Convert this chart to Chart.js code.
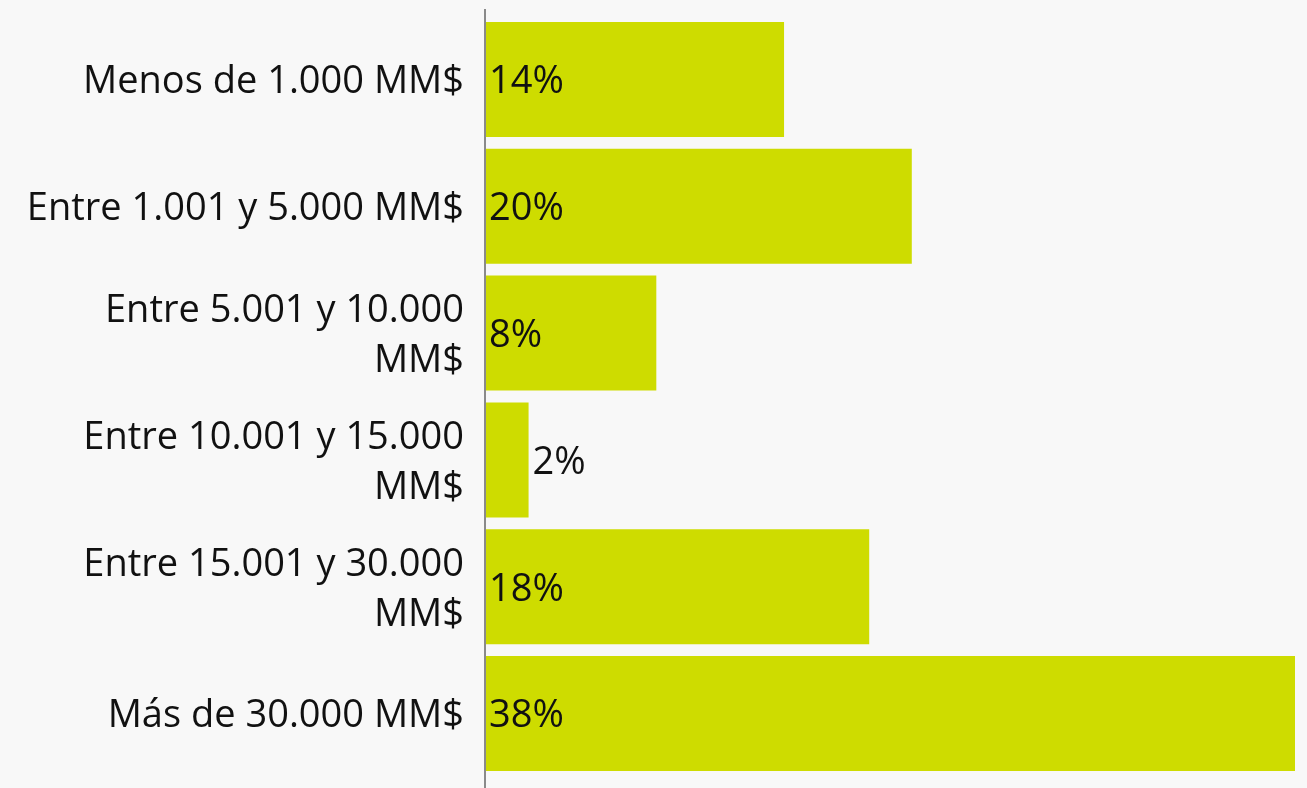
<!DOCTYPE html>
<html>
<head>
<meta charset="utf-8">
<script src="https://cdn.jsdelivr.net/npm/chart.js@4"></script>
<style>
  html, body { margin: 0; padding: 0; background: #f8f8f8; }
  canvas { display: block; }
</style>
</head>
<body>
<canvas id="sizeChart" width="1307" height="788"></canvas>
<script>
// --- Data ---
const categories = [
    ['Menos de 1.000 MM$'],
    ['Entre 1.001 y 5.000 MM$'],
    ['Entre 5.001 y 10.000', 'MM$'],
    ['Entre 10.001 y 15.000', 'MM$'],
    ['Entre 15.001 y 30.000', 'MM$'],
    ['Más de 30.000 MM$']
];
const shares = [14, 20, 8, 2, 18, 38];

const BAR_COLOR = '#cedc00';
const TEXT_COLOR = '#111111';
const FONT = "'Open Sans', 'Noto Sans', sans-serif";
const FONT_SIZE = 38;

// --- Axis line that runs past the plot area ---
const axisLine = {
    id: 'axisLine',
    afterDatasetsDraw(chart) {
        const { ctx, chartArea } = chart;
        ctx.save();
        ctx.strokeStyle = '#8a8a8a';
        ctx.lineWidth = 2;
        ctx.beginPath();
        ctx.moveTo(chartArea.left - 1, 9);
        ctx.lineTo(chartArea.left - 1, chart.height);
        ctx.stroke();
        ctx.restore();
    }
};

// --- Value labels: inside at base, or after the bar if it does not fit ---
const valueLabels = {
    id: 'valueLabels',
    afterDatasetsDraw(chart) {
        const { ctx } = chart;
        const meta = chart.getDatasetMeta(0);
        ctx.save();
        ctx.font = `${FONT_SIZE}px ${FONT}`;
        ctx.fillStyle = TEXT_COLOR;
        ctx.textBaseline = 'middle';
        ctx.textAlign = 'left';
        meta.data.forEach((bar, i) => {
            const text = shares[i] + '%';
            const w = ctx.measureText(text).width;
            const barW = bar.x - bar.base;
            const x = (w + 8 > barW) ? bar.x + 4 : bar.base + 3;
            ctx.fillText(text, x, bar.y + 3);
        });
        ctx.restore();
    }
};

new Chart(document.getElementById('sizeChart'), {
    type: 'bar',
    data: {
        labels: categories,
        datasets: [{
            data: shares,
            backgroundColor: BAR_COLOR,
            borderWidth: 0,
            barPercentage: 0.907,
            categoryPercentage: 1
        }]
    },
    options: {
        indexAxis: 'y',
        responsive: false,
        animation: false,
        layout: { padding: { top: 16, bottom: 11, right: 12, left: 0 } },
        scales: {
            x: {
                display: false,
                min: 0,
                max: 38
            },
            y: {
                afterFit(scale) {
                    scale.width = 486;
                    scale.paddingTop = 0;
                    scale.paddingBottom = 0;
                },
                border: { display: false },
                grid: { display: false, drawTicks: false },
                ticks: {
                    padding: 22,
                    labelOffset: 3,
                    color: TEXT_COLOR,
                    font: { family: FONT, size: FONT_SIZE, lineHeight: '50px' }
                }
            }
        },
        plugins: {
            legend: { display: false },
            tooltip: { enabled: false }
        }
    },
    plugins: [axisLine, valueLabels]
});
</script>
</body>
</html>
